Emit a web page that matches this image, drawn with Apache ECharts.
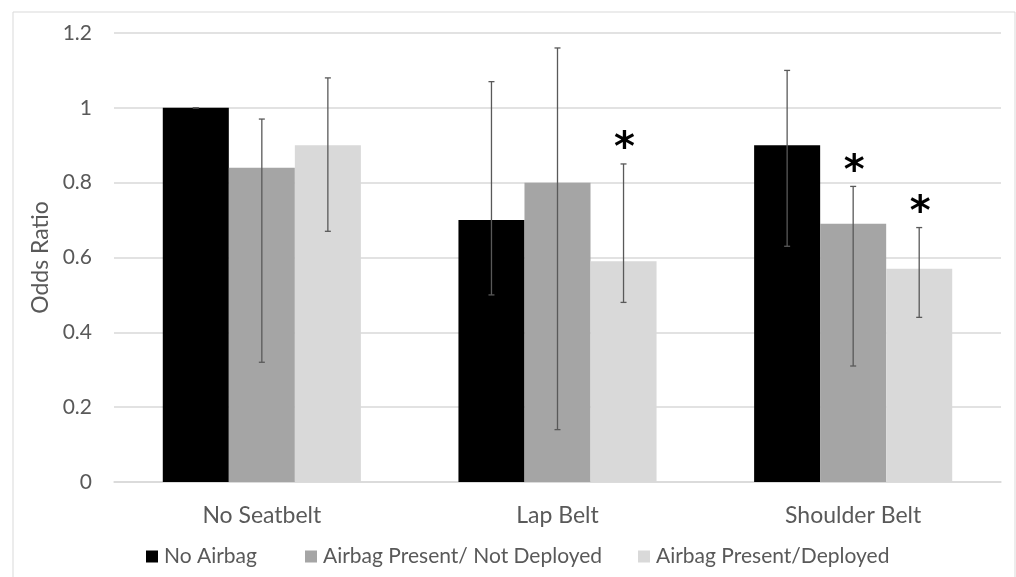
<!DOCTYPE html>
<html>
<head>
<meta charset="utf-8">
<script src="https://cdn.jsdelivr.net/npm/echarts@6/dist/echarts.min.js"></script>
<style>
html,body{margin:0;padding:0;background:#fff;}
#c{width:1016px;height:577px;}
</style>
</head>
<body>
<div id="c"></div>
<script>
const categories = ['No Seatbelt', 'Lap Belt', 'Shoulder Belt'];
const seriesNames = ['No Airbag', 'Airbag Present/ Not Deployed', 'Airbag Present/Deployed'];
const noAirbag = [1.00, 0.70, 0.90];
const notDeployed = [0.84, 0.80, 0.69];
const deployed = [0.90, 0.59, 0.57];
const noAirbagLow = [1.00, 0.50, 0.63];
const noAirbagHigh = [1.00, 1.07, 1.10];
const notDeployedLow = [0.32, 0.14, 0.31];
const notDeployedHigh = [0.97, 1.16, 0.79];
const deployedLow = [0.67, 0.48, 0.44];
const deployedHigh = [1.08, 0.85, 0.68];
const noAirbagSig = [0, 0, 0];
const notDeployedSig = [0, 0, 1];
const deployedSig = [0, 1, 1];
const yTicks = [0, 0.2, 0.4, 0.6, 0.8, 1, 1.2];

const colors = ['#000000', '#a5a5a5', '#d9d9d9'];
const values = [noAirbag, notDeployed, deployed];
const lows = [noAirbagLow, notDeployedLow, deployedLow];
const highs = [noAirbagHigh, notDeployedHigh, deployedHigh];
const sigs = [noAirbagSig, notDeployedSig, deployedSig];
const gapFrac = 0.33;
const font = 'Lato, "Open Sans", sans-serif';
const legendLefts = [141, 300, 633];

const chart = echarts.init(document.getElementById('c'));

const series = [];
values.forEach((v, i) => {
  series.push({
    name: seriesNames[i], type: 'bar', data: v,
    itemStyle: { color: colors[i] },
    barGap: '0%', barCategoryGap: (gapFrac * 100) + '%',
    emphasis: { disabled: true }
  });
});
values.forEach((v, i) => {
  series.push({
    type: 'custom',
    name: 'err' + i,
    z: 10,
    encode: { x: 0, y: [1, 2] },
    data: categories.map((c, k) => [k, lows[i][k], highs[i][k], sigs[i][k]]),
    renderItem: function (params, api) {
      const band = api.size([1, 0])[0];
      const bw = band * (1 - gapFrac) / 3;
      const off = (i - 1) * bw;
      const lo = api.coord([api.value(0), api.value(1)]);
      const hi = api.coord([api.value(0), api.value(2)]);
      const x = lo[0] + off;
      const cap = 3;
      const st = { stroke: '#595959', lineWidth: 1.3 };
      const children = [
        { type: 'line', shape: { x1: x, y1: hi[1], x2: x, y2: lo[1] }, style: st },
        { type: 'line', shape: { x1: x - cap, y1: hi[1], x2: x + cap, y2: hi[1] }, style: st },
        { type: 'line', shape: { x1: x - cap, y1: lo[1], x2: x + cap, y2: lo[1] }, style: st }
      ];
      if (api.value(3)) {
        children.push({
          type: 'text',
          style: { text: '*', x: x + 1, y: hi[1] + 6, fill: '#000', font: 'bold 40px "DejaVu Sans", sans-serif', align: 'center', verticalAlign: 'bottom' }
        });
      }
      return { type: 'group', children: children };
    }
  });
});

chart.setOption({
  animation: false,
  backgroundColor: '#fff',
  graphic: [{
    type: 'rect', shape: { x: 13, y: 12, width: 1002, height: 570 },
    style: { fill: 'none', stroke: '#d9d9d9', lineWidth: 1 }, silent: true, z: -1
  }],
  grid: { left: 114, right: 15, top: 33, bottom: 95 },
  legend: seriesNames.map((n, i) => ({
    data: [n],
    bottom: 5, left: legendLefts[i],
    icon: 'rect', itemWidth: 12, itemHeight: 12,
    textStyle: { fontFamily: font, fontSize: 21, color: '#595959', padding: [0, 0, 0, 1] }
  })),
  xAxis: {
    type: 'category', data: categories,
    axisLine: { lineStyle: { color: '#d9d9d9', width: 1.5 } },
    axisTick: { show: false },
    axisLabel: { fontFamily: font, fontSize: 23, color: '#595959', margin: 22 }
  },
  yAxis: {
    type: 'value', min: 0, max: 1.2, interval: 0.2,
    name: 'Odds Ratio', nameLocation: 'middle', nameGap: 62,
    nameTextStyle: { fontFamily: font, fontSize: 23, color: '#595959' },
    axisLine: { show: false }, axisTick: { show: false },
    axisLabel: { fontFamily: font, fontSize: 21, color: '#595959', margin: 22,
      formatter: v => String(Math.round(v * 10) / 10) },
    splitLine: { lineStyle: { color: '#d9d9d9', width: 1.5 } }
  },
  series: series
});
</script>
</body>
</html>
